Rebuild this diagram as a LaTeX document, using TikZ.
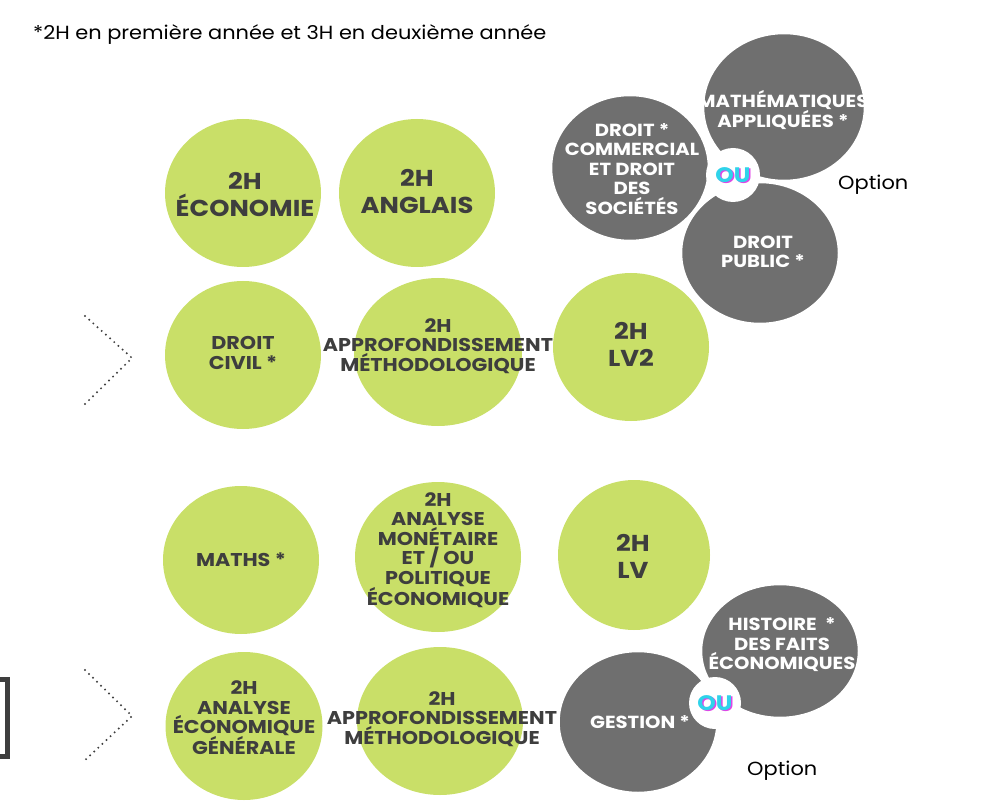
\documentclass[tikz,border=0pt]{standalone}
\usepackage{fontspec}
\setmainfont{Poppins}
\newfontfamily\spart{Poppins}[FakeStretch=1.12]
\newfontfamily\widef{Poppins}[FakeStretch=1.1]
\usetikzlibrary{shapes.geometric}
\definecolor{lime}{HTML}{C9DF68}
\definecolor{slate}{HTML}{6F6F6F}
\definecolor{ink}{HTML}{3E3E3E}
\definecolor{oucyan}{HTML}{2FD3EA}
\definecolor{oumag}{HTML}{E044E6}
\begin{document}
\begin{tikzpicture}[x=1pt,y=-1pt,
  gc/.style={ellipse,fill=lime,inner sep=0pt,minimum width=156pt,minimum height=148pt},
  gy/.style={ellipse,fill=slate,draw=white,line width=2.5pt,inner sep=0pt},
  bigt/.style={align=center,text=ink,inner sep=0pt,font=\spart\bfseries\fontsize{23}{27}\selectfont},
  smt/.style={align=center,text=ink,inner sep=0pt,font=\spart\bfseries\fontsize{18.5}{19.5}\selectfont},
  wt/.style={align=center,text=white,inner sep=0pt,font=\spart\bfseries\fontsize{17.5}{19.5}\selectfont},
  oucirc/.style={circle,fill=white,inner sep=0pt,minimum size=54pt},
  oufont/.style={inner sep=0pt,font=\spart\bfseries\fontsize{21}{22}\selectfont},
  plain/.style={inner sep=0pt,text=black,font=\widef\fontsize{19}{21}\selectfont},
  chev/.style={draw=ink,line width=2.2pt,line cap=round,dash pattern=on 0pt off 5.6pt}
]
\useasboundingbox (0,0) rectangle (985,810);

% header
\node[plain,anchor=base west] (hdr) at (33,40) {*2H en première année et 3H en deuxième année};

% left bracket fragment
\draw[draw=ink,line width=5pt] (-10,679.5) rectangle (7.5,756.5);

% chevrons
\coordinate (c1a) at (85,316);
\coordinate (c1b) at (132,358);
\coordinate (c1c) at (82,407);
\draw[chev] (c1a) -- (c1b) -- (c1c);
\coordinate (c2a) at (85,670);
\coordinate (c2b) at (132,716);
\coordinate (c2c) at (83,762);
\draw[chev] (c2a) -- (c2b) -- (c2c);

% green circles
\node[gc] (eco) at (243,193) {};
\node[gc] (ang) at (417,193) {};
\node[gc] (civ) at (243,355) {};
\node[gc,minimum width=168pt] (app1) at (438,352) {};
\node[gc] (lv2) at (631,347) {};
\node[gc] (math) at (241,560) {};
\node[gc,minimum width=166pt,minimum height=150pt] (mon) at (438,557) {};
\node[gc,minimum width=152pt,minimum height=150pt] (lv) at (634,555) {};
\node[gc,minimum width=157pt] (aeg) at (244,726) {};
\node[gc,minimum width=166pt] (app2) at (440,721) {};

\node[bigt] (eco-t) at (245,195) {2H\\ÉCONOMIE};
\node[bigt] (ang-t) at (417,192) {2H\\ANGLAIS};
\node[smt] (civ-t) at (243,353) {DROIT\\CIVIL *};
\node[smt] (app1-t) at (438,346) {2H\\APPROFONDISSEMENT\\MÉTHODOLOGIQUE};
\node[bigt] (lv2-t) at (631,344) {2H\\LV2};
\node[smt] (math-t) at (241,560) {MATHS *};
\node[smt] (mon-t) at (438,550) {2H\\ANALYSE\\MONÉTAIRE\\ET / OU\\POLITIQUE\\ÉCONOMIQUE};
\node[bigt] (lv-t) at (633,556) {2H\\LV};
\node[smt] (aeg-t) at (244,718) {2H\\ANALYSE\\ÉCONOMIQUE\\GÉNÉRALE};
\node[smt] (app2-t) at (442,719) {2H\\APPROFONDISSEMENT\\MÉTHODOLOGIQUE};

% grey option circles (top)
\node[gy,minimum width=162pt,minimum height=148pt] (mapp) at (784,107) {};
\node[gy,minimum width=158pt,minimum height=146pt] (dcom) at (630,168) {};
\node[gy,minimum width=158pt,minimum height=142pt] (dpub) at (760,253) {};
\node[wt] (mapp-t) at (783,110) {MATHÉMATIQUES\\APPLIQUÉES *};
\node[wt] (dcom-t) at (632,169) {DROIT *\\COMMERCIAL\\ET DROIT\\DES\\SOCIÉTÉS};
\node[wt] (dpub-t) at (763,252) {DROIT\\PUBLIC *};
\node[oucirc] (ou1) at (733,175) {};
\node[oufont,text=oumag] (ou1s) at ([shift={(1.3,1.3)}]ou1.center) {OU};
\node[oufont,text=oucyan] (ou1t) at (ou1.center) {OU};
\node[plain,anchor=base west] (opt1) at (838,190) {Option};

% grey option circles (bottom)
\node[gy,minimum width=158pt,minimum height=134pt] (hist) at (780,651) {};
\node[gy,minimum width=159pt,minimum height=142pt] (gest) at (638,722) {};
\node[wt] (hist-t) at (782,645) {HISTOIRE \ *\\DES FAITS\\ÉCONOMIQUES};
\node[wt] (gest-t) at (640,722) {GESTION *};
\node[oucirc,minimum size=52pt] (ou2) at (715,703) {};
\node[oufont,text=oumag] (ou2s) at ([shift={(1.3,1.3)}]ou2.center) {OU};
\node[oufont,text=oucyan] (ou2t) at (ou2.center) {OU};
\node[plain,anchor=base west] (opt2) at (747,775) {Option};
\end{tikzpicture}
\end{document}
